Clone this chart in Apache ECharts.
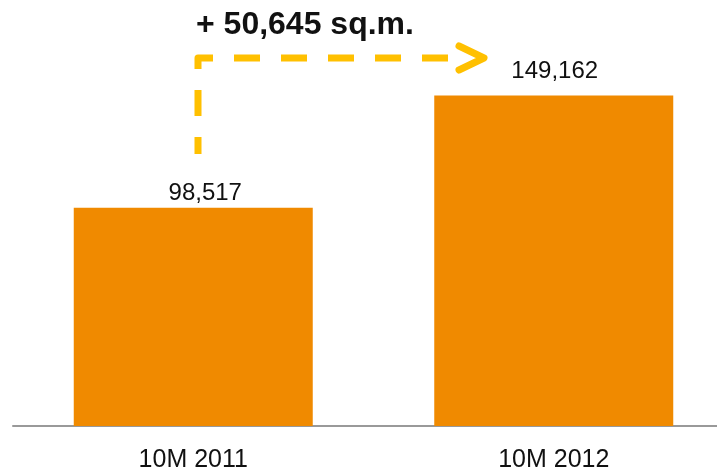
<!DOCTYPE html>
<html>
<head>
<meta charset="utf-8">
<style>html,body{margin:0;padding:0;background:#fff;}#c{width:717px;height:470px;}</style>
<script src="https://cdn.jsdelivr.net/npm/echarts@6/dist/echarts.min.js"></script>
</head>
<body>
<div id="c"></div>
<script>
const categories = ['10M 2011', '10M 2012'];
const values = [98517, 149162];
const valueLabels = ['98,517', '149,162'];
const deltaText = '+ 50,645 sq.m.';

const FONT = '"Liberation Sans", Arial, sans-serif';
const chart = echarts.init(document.getElementById('c'), null, {renderer: 'canvas'});
const labelDistances = [2, 12];
const labelOffsets = [[12, 0], [1, 0]];

chart.setOption({
  animation: false,
  backgroundColor: '#ffffff',
  title: {
    text: deltaText,
    left: 196, top: 9, padding: 0,
    textStyle: {fontFamily: FONT, fontSize: 32, fontWeight: 'bold', color: '#111'}
  },
  grid: {left: 13, right: -17, top: 20, bottom: 44, containLabel: false, outerBoundsMode: 'none'},
  xAxis: {
    type: 'category',
    data: categories,
    axisLine: {show: true, lineStyle: {color: '#999999', width: 2}},
    axisTick: {show: false},
    axisLabel: {fontFamily: FONT, fontSize: 25, color: '#111', margin: 22}
  },
  yAxis: {
    type: 'value', min: 0, max: 183200,
    show: false, splitLine: {show: false}
  },
  series: [{
    type: 'bar',
    barWidth: 239,
    itemStyle: {color: '#F08A00'},
    data: values.map((v, i) => ({
      value: v,
      label: {
        show: true, position: 'top', distance: labelDistances[i], offset: labelOffsets[i],
        formatter: valueLabels[i],
        fontFamily: FONT, fontSize: 24, color: '#111'
      }
    }))
  }],
  graphic: [
    {
      type: 'polyline',
      shape: {points: [[448, 58], [198, 58], [198, 154]]},
      style: {stroke: '#FFC000', lineWidth: 7, fill: null, lineDash: [26, 21], lineCap: 'butt', lineJoin: 'round'}
    },
    {
      type: 'polyline',
      shape: {points: [[459, 46], [484, 58], [459, 70]]},
      style: {stroke: '#FFC000', lineWidth: 7, fill: null, lineCap: 'round', lineJoin: 'round'}
    }
  ]
});
</script>
</body>
</html>
